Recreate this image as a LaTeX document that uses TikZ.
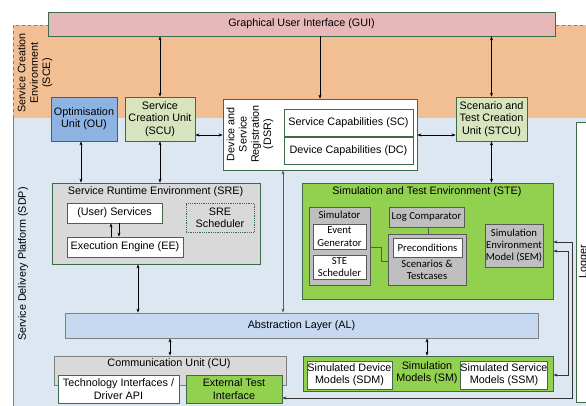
\documentclass[tikz,border=0pt]{standalone}
\usepackage{fontspec}
\setmainfont{Liberation Sans}
\newfontfamily\calfont{Carlito}
\usetikzlibrary{arrows.meta}
\definecolor{sceC}{HTML}{F2BE94}
\definecolor{sdpC}{HTML}{DDE7F2}
\definecolor{guiC}{HTML}{E6B9B8}
\definecolor{ouC}{HTML}{8DB3E2}
\definecolor{lgC}{HTML}{D7E4BD}
\definecolor{steC}{HTML}{92D050}
\definecolor{g1C}{HTML}{D9D9D9}
\definecolor{g2C}{HTML}{BFBFBF}
\definecolor{alC}{HTML}{C6D9F1}
\definecolor{bordC}{HTML}{3D6B4A}
\definecolor{gbordC}{HTML}{595959}
\tikzset{
  txt/.style={font=\fontsize{10.8}{12.3}\selectfont, align=center, inner sep=0pt},
  ctxt/.style={font=\calfont\fontsize{10.7}{12.3}\selectfont, align=center, inner sep=0pt},
  bx/.style={draw=bordC, line width=0.8pt, inner sep=0pt, txt},
  gbx/.style={draw=gbordC, line width=0.8pt, inner sep=0pt, ctxt},
  arr/.style={{Stealth[length=4pt,width=3pt]}-{Stealth[length=4pt,width=3pt]}, line width=0.6pt, draw=black},
  arrone/.style={-{Stealth[length=4pt,width=3pt]}, line width=0.6pt, draw=black},
  plain/.style={line width=0.8pt, draw=gbordC},
}
\begin{document}
\begin{tikzpicture}[x=1pt,y=-1pt]
\useasboundingbox (0,0) rectangle (586,405);
% backgrounds
\fill[sceC] (13,25) rectangle (590,118);
\fill[sdpC] (13,118) rectangle (590,410);
\draw[gray, line width=0.7pt, dashed] (13,118) -- (13,25) -- (590,25);
\draw[gray, line width=0.8pt] (13,118) -- (13,410);
\node[txt, rotate=90] (sceL) at (35,73) {Service Creation\\Environment\\(SCE)};
\node[txt, rotate=90] (sdpL) at (23,264) {Service Delivery Platform (SDP)};

% Logger
\node[bx, fill=white, minimum width=28pt, minimum height=280pt] (LOG) at (590,262) {};
\node[txt, rotate=90] (LOGt) at (584,262) {Logger};

% top row
\node[bx, fill=guiC, minimum width=507pt, minimum height=24pt] (GUI) at (301.5,24) {Graphical User Interface (GUI)};
\node[bx, fill=ouC, minimum width=66pt, minimum height=44pt] (OU) at (84,119) {Optimisation\\Unit (OU)};
\node[bx, fill=lgC, minimum width=70pt, minimum height=44pt] (SCU) at (160,119) {Service\\Creation Unit\\(SCU)};
\node[bx, fill=white, minimum width=194pt, minimum height=71pt] (DSR) at (320,134.5) {};
\node[txt, rotate=90] (DSRt) at (250,134) {Device and\\Service\\Registration\\(DSR)};
\node[bx, fill=white, minimum width=129pt, minimum height=27pt] (SC) at (348.5,122.5) {Service Capabilities (SC)};
\node[bx, fill=white, minimum width=129pt, minimum height=27pt] (DC) at (348.5,150.5) {Device Capabilities (DC)};
\node[bx, fill=lgC, minimum width=71pt, minimum height=44pt] (STCU) at (491.5,119) {Scenario and\\Test Creation\\Unit (STCU)};

% SRE
\node[bx, fill=g1C, minimum width=208pt, minimum height=81pt] (SRE) at (156,223.5) {};
\node[txt] (SREt) at (155.5,192) {Service Runtime Environment (SRE)};
\node[bx, fill=white, minimum width=95pt, minimum height=20pt] (Serv) at (114.5,213) {(User) Services};
\node[bx, fill=g1C, densely dotted, minimum width=68pt, minimum height=29pt] (SRESch) at (220,217.5) {SRE\\Scheduler};
\node[bx, fill=white, minimum width=116pt, minimum height=20pt] (EE) at (125,247) {Execution Engine (EE)};

% STE
\node[bx, fill=steC, minimum width=251pt, minimum height=116pt] (STE) at (427.5,241) {};
\node[txt] (STEt) at (427,192) {Simulation and Test Environment (STE)};
\node[gbx, fill=g2C, minimum width=61pt, minimum height=78pt] (Sim) at (339.5,246) {};
\node[ctxt] (Simt) at (339.5,215) {Simulator};
\node[gbx, fill=white, minimum width=53pt, minimum height=25pt] (EvGen) at (339.5,236.5) {Event\\Generator};
\node[gbx, fill=white, minimum width=53pt, minimum height=24pt] (STESch) at (339.5,267) {STE\\Scheduler};
\node[gbx, fill=g2C, minimum width=75pt, minimum height=20pt] (LogC) at (426.5,217) {Log Comparator};
\node[gbx, fill=g2C, minimum width=78pt, minimum height=51pt] (Scen) at (427,259.5) {};
\node[gbx, fill=white, minimum width=69pt, minimum height=19pt] (Prec) at (427.5,247.5) {Preconditions};
\node[ctxt] (Scent) at (427,270) {Scenarios \&\\Testcases};
\node[gbx, fill=g2C, minimum width=58pt, minimum height=43pt] (SEM) at (514,245.5) {Simulation\\Environment\\Model (SEM)};
\draw[plain] (LogC.south -| 428,0) -- (Scen.north -| 428,0);
\draw[plain] (Sim.east |- 0,247) -| (381,261) -- (Scen.west |- 0,261);

% AL
\node[bx, draw=gray, fill=alC, minimum width=473pt, minimum height=25pt] (AL) at (301.5,325.5) {Abstraction Layer (AL)};

% CU
\node[bx, draw=gray, fill=g1C, minimum width=232pt, minimum height=29pt] (CU) at (170,370.5) {};
\node[txt] (CUt) at (169,364) {Communication Unit (CU)};
\node[bx, fill=white, minimum width=121pt, minimum height=28pt] (Tech) at (118.5,389) {Technology Interfaces /\\Driver API};
\node[bx, fill=steC, minimum width=96pt, minimum height=28pt] (ExtT) at (234,389) {External Test\\Interface};

% SM
\node[bx, fill=steC, minimum width=250pt, minimum height=35pt] (SM) at (428,373.5) {};
\node[txt] (SMt) at (427,373) {Simulation\\Models (SM)};
\node[bx, fill=white, minimum width=85pt, minimum height=28pt] (SDM) at (349.5,375) {Simulated Device\\Models (SDM)};
\node[bx, fill=white, minimum width=86pt, minimum height=28pt] (SSM) at (504,375) {Simulated Service\\Models (SSM)};

% connectors
\draw[arr] (SCU.north |- GUI.south) -- (SCU.north);
\draw[arrone] (DSR.north |- GUI.south) -- (DSR.north);
\draw[arr] (STCU.north |- GUI.south) -- (STCU.north);
\draw[arr] (SCU.east |- 0,135) -- (DSR.west |- 0,135);
\draw[arr] (DSR.east |- 0,135) -- (STCU.west |- 0,135);
\draw[arr] (OU.south -| 81,0) -- (SRE.north -| 81,0);
\draw[arr] (SCU.south) -- (SRE.north -| SCU.south);
\draw[arr] (STCU.south) -- (STE.north -| STCU.south);
\draw[arr, draw=gbordC] (DSR.south -| 283,0) -- (AL.north -| 283,0);
\draw[arr] (SRE.south -| 138,0) -- (AL.north -| 138,0);
\draw[arr] (AL.south -| CU.north) -- (CU.north);
\draw[arr] (AL.south -| 427,0) -- (SM.north -| 427,0);
\draw[arrone] (EE.north -| 111,0) -- (Serv.south -| 111,0);
\draw[arrone] (Serv.south -| 119,0) -- (EE.north -| 119,0);
\draw[arr, draw=black!80] (STE.east |- 0,242) -| (572,398) -- (ExtT.east |- 0,398);
\draw[arr, draw=black!80] (STE.east |- 0,251) -| (568,375) -- (SM.east |- 0,375);
\end{tikzpicture}
\end{document}
